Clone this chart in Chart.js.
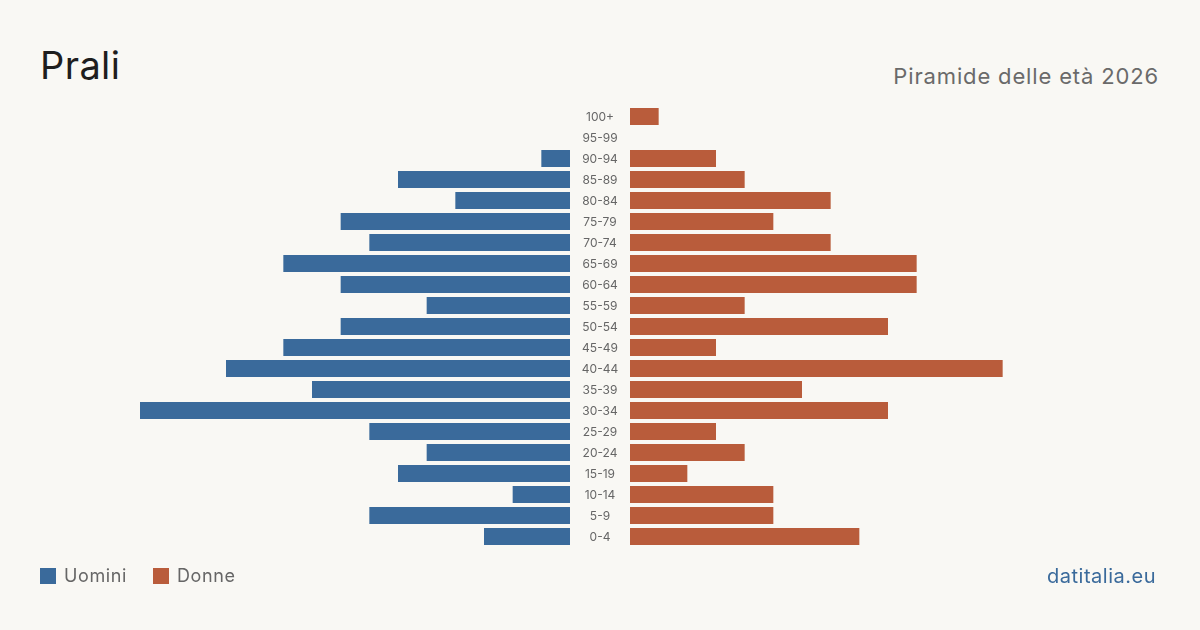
<!DOCTYPE html>
<html>
<head>
<meta charset="utf-8">
<script src="https://cdn.jsdelivr.net/npm/chart.js@4/dist/chart.umd.min.js"></script>
<style>
    body { margin: 0; background: #f9f8f4; font-family: Inter, "Noto Sans", sans-serif; }
    #wrap { position: relative; width: 1200px; height: 630px; overflow: hidden; }
    #titolo { position: absolute; left: 40px; top: 42px; font-size: 38px; color: #1e1e1e; letter-spacing: 0.4px; }
    #sottotitolo { position: absolute; right: 41px; top: 63px; font-size: 22px; color: #6a6a6a; letter-spacing: 0.85px; }
    #left { position: absolute; left: 0; top: 0; }
    #right { position: absolute; left: 570px; top: 0; }
    .leg { position: absolute; top: 565px; font-size: 18px; color: #666; letter-spacing: 0.6px; }
    .leg span { display: inline-block; width: 16px; height: 16px; vertical-align: -2px; margin-right: 8px; }
    #fonte { position: absolute; right: 44px; top: 564px; font-size: 20px; color: #3a6a9b; letter-spacing: 0.5px; }
</style>
</head>
<body>
<div id="wrap">
    <div id="titolo">Prali</div>
    <div id="sottotitolo">Piramide delle età 2026</div>
    <canvas id="left" width="570" height="630"></canvas>
    <canvas id="right" width="630" height="630"></canvas>
    <div class="leg" style="left:40px"><span style="background:#3a6a9b"></span>Uomini</div>
    <div class="leg" style="left:153px"><span style="background:#b95c3b"></span>Donne</div>
    <div id="fonte">datitalia.eu</div>
</div>
<script>
// Classi di età, dalla più anziana alla più giovane
const classi = ['100+', '95-99', '90-94', '85-89', '80-84', '75-79', '70-74', '65-69', '60-64', '55-59',
    '50-54', '45-49', '40-44', '35-39', '30-34', '25-29', '20-24', '15-19', '10-14', '5-9', '0-4'];
const uomini = [0, 0, 1, 6, 4, 8, 7, 10, 8, 5, 8, 10, 12, 9, 15, 7, 5, 6, 2, 7, 3];
const donne = [1, 0, 3, 4, 7, 5, 7, 10, 10, 4, 9, 3, 13, 6, 9, 3, 4, 2, 5, 5, 8];
const scalaMax = 15;

Chart.defaults.animation = false;
Chart.defaults.font.family = 'Inter, "Noto Sans", sans-serif';

function opzioni(reverse, padding) {
    return {
        indexAxis: 'y',
        responsive: false,
        layout: { padding: padding },
        plugins: { legend: { display: false }, tooltip: { enabled: false } },
        scales: {
            x: { display: false, min: 0, max: scalaMax, reverse: reverse },
            y: { display: false }
        }
    };
}

// Etichette delle classi al centro, tra le due metà
const etichette = {
    id: 'etichette',
    afterDraw: function (chart) {
        const ctx = chart.ctx;
        const y = chart.scales.y;
        ctx.save();
        ctx.font = '12px Inter, "Noto Sans", sans-serif';
        ctx.fillStyle = '#666';
        ctx.textAlign = 'center';
        ctx.textBaseline = 'middle';
        classi.forEach(function (c, i) {
            ctx.fillText(c, chart.chartArea.left - 30, y.getPixelForValue(i) + 1);
        });
        ctx.restore();
    }
};

new Chart(document.getElementById('left'), {
    type: 'bar',
    data: {
        labels: classi,
        datasets: [{
            label: 'Uomini',
            data: uomini,
            backgroundColor: '#3a6a9b',
            categoryPercentage: 1,
            barPercentage: 0.81
        }]
    },
    options: opzioni(true, { left: 140, right: 0, top: 106, bottom: 83 })
});

new Chart(document.getElementById('right'), {
    type: 'bar',
    data: {
        labels: classi,
        datasets: [{
            label: 'Donne',
            data: donne,
            backgroundColor: '#b95c3b',
            categoryPercentage: 1,
            barPercentage: 0.81
        }]
    },
    options: opzioni(false, { left: 60, right: 140, top: 106, bottom: 83 }),
    plugins: [etichette]
});
</script>
</body>
</html>
